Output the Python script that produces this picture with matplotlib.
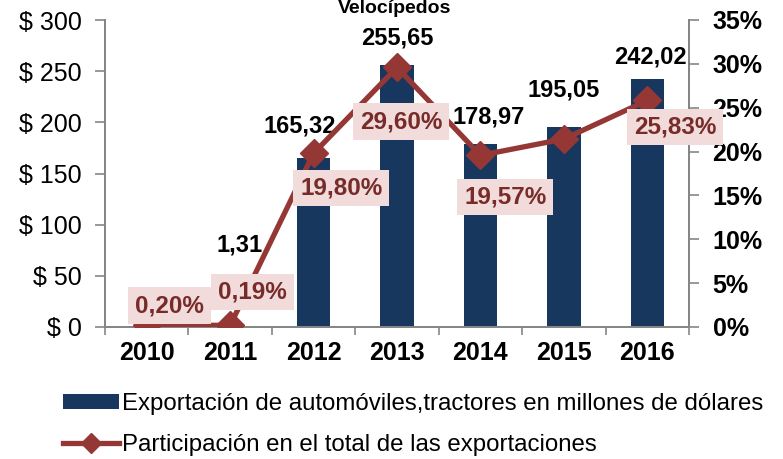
import matplotlib
matplotlib.use("Agg")
import matplotlib.pyplot as plt
from matplotlib.lines import Line2D
from matplotlib.patches import Patch

plt.rcParams['font.family'] = ['Liberation Sans', 'DejaVu Sans']

years = ['2010', '2011', '2012', '2013', '2014', '2015', '2016']
exports = [0.9, 1.31, 165.32, 255.65, 178.97, 195.05, 242.02]
export_labels = ['', '1,31', '165,32', '255,65', '178,97', '195,05', '242,02']
share = [0.20, 0.19, 19.80, 29.60, 19.57, 21.43, 25.83]
share_labels = ['0,20%', '0,19%', '19,80%', '29,60%', '19,57%', '', '25,83%']
left_ticks = [0, 50, 100, 150, 200, 250, 300]
right_ticks = [0, 5, 10, 15, 20, 25, 30, 35]

bar_color = '#17375e'
line_color = '#953735'
label_color = '#772c2a'
box_color = '#f2dcdb'
spine_color = '#868686'

fig = plt.figure(figsize=(7.83, 4.59), dpi=100)
ax = fig.add_axes([105/783, 1-327/459, 584/783, 307/459])
ax2 = ax.twinx()

x = list(range(len(years)))
ax.bar(x, exports, width=0.4, color=bar_color, zorder=2)
ax.set_xlim(-0.5, 6.5)
ax.set_ylim(0, 300)
ax.set_yticks(left_ticks)
ax.set_yticklabels([f'$ {v}' for v in left_ticks], fontsize=18)
ax.set_xticks(x)
ax.set_xticklabels(years, fontsize=18, fontweight='bold')
ax.tick_params(axis='x', length=0, pad=10)
ax.set_xticks([i - 0.5 for i in range(len(years) + 1)], minor=True)
ax.tick_params(axis='x', which='minor', length=6, color=spine_color, direction='out', width=1.2)
ax.tick_params(axis='y', length=7, color=spine_color, pad=10, width=1.2)

ax2.plot(x, share, color=line_color, lw=3.8, marker='D', markersize=14, zorder=3)
ax2.set_ylim(0, 35)
ax2.set_yticks(right_ticks)
ax2.set_yticklabels([f'{v}%' for v in right_ticks], fontsize=18, fontweight='bold')
ax2.tick_params(axis='y', length=7, color=spine_color, pad=10, width=1.2)

for a in (ax, ax2):
    a.spines['top'].set_visible(False)
    for s in ('left', 'right', 'bottom'):
        a.spines[s].set_color(spine_color)
        a.spines[s].set_linewidth(1.4)

# bar value labels (offsets in points, label centre relative to bar top)
bar_offsets = [(0, 0), (7, 58), (-10, 23), (0, 20), (6, 19), (0, 27), (2, 16)]
for i, (v, lab) in enumerate(zip(exports, export_labels)):
    if lab:
        ax.annotate(lab, (i, v), xytext=bar_offsets[i], textcoords='offset points',
                    ha='center', va='center', fontsize=17, fontweight='bold', color='black', zorder=5)

# line labels (offsets in points, label centre relative to point)
line_offsets = [(16.5, 14), (16, 24), (20, -25), (3, -39), (18, -30), (0, 0), (20, -19)]
for i, (v, lab) in enumerate(zip(share, share_labels)):
    if lab:
        ax2.annotate(lab, (i, v), xytext=line_offsets[i], textcoords='offset points',
                     ha='center', va='center', fontsize=17.5, fontweight='bold', color=label_color,
                     bbox=dict(boxstyle='square,pad=0.28', fc=box_color, ec='none'), zorder=6)

fig.text(395/783, 1.0, 'Velocípedos', ha='center', va='top',
         fontsize=14, fontweight='bold')

handles = [Patch(facecolor=bar_color, edgecolor='none'),
           Line2D([0], [0], color=line_color, lw=3.8, marker='D', markersize=10)]
labels = ['Exportación de automóviles,tractores en millones de dólares',
          'Participación en el total de las exportaciones']
fig.legend(handles, labels, loc='upper left', bbox_to_anchor=(63/783, 1 - 393/459),
           frameon=False, fontsize=17.3, handlelength=2.35, handletextpad=0.12,
           labelspacing=0.78, borderaxespad=0, borderpad=0, handleheight=0.6)

fig.savefig('out.png', dpi=100)
